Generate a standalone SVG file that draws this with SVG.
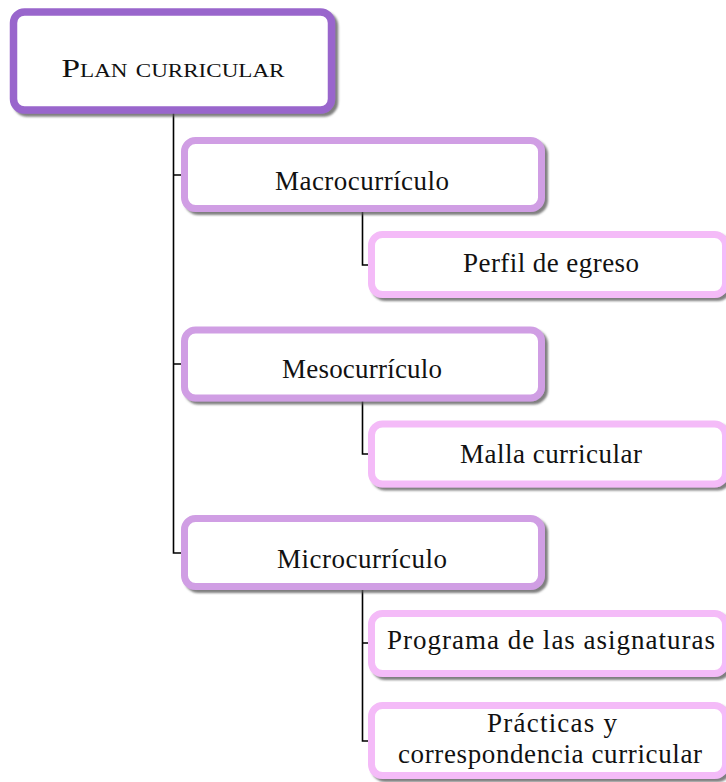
<svg xmlns="http://www.w3.org/2000/svg" width="726" height="782" viewBox="0 0 726 782">
<defs>
<filter id="sh" x="-5%" y="-10%" width="115%" height="130%">
<feDropShadow dx="3" dy="3" stdDeviation="0.8" flood-color="#555" flood-opacity="0.75"/>
</filter>
</defs>
<style>
.box{fill:#fff;filter:url(#sh)}
.root{stroke:#9966CC;stroke-width:7.5}
.mid{stroke:#D09EE4;stroke-width:7}
.leaf{stroke:#F4BBF8;stroke-width:7}
text{font-family:"Liberation Serif","Times New Roman",serif;font-size:27px;fill:#111;text-anchor:middle}
.sc{font-variant:small-caps;font-size:26px}
.conn{fill:none;stroke:#000;stroke-width:1.6}
</style>
<rect width="726" height="782" fill="#fff"/>
<g id="connectors">
<path class="conn" d="M173.5 110 V553 H181 M173.5 175 H181 M173.5 364 H181"/>
<path class="conn" d="M362.5 212 V265 H368"/>
<path class="conn" d="M362.5 401 V454 H368"/>
<path class="conn" d="M362.5 589 V741 H368 M362.5 643 H368"/>
</g>
<g id="plan">
<rect class="box root" x="13.5" y="12" width="318" height="98" rx="11"/>
<text class="sc" x="173" y="77" textLength="223" lengthAdjust="spacingAndGlyphs">Plan curricular</text>
</g>
<g id="macro">
<rect class="box mid" x="184.5" y="140.5" width="357" height="68" rx="11"/>
<text x="362" y="190" textLength="174" lengthAdjust="spacing">Macrocurrículo</text>
</g>
<g id="perfil">
<rect class="box leaf" x="371.5" y="234.5" width="354" height="60" rx="11"/>
<text x="551" y="272" textLength="176" lengthAdjust="spacing">Perfil de egreso</text>
</g>
<g id="meso">
<rect class="box mid" x="184.5" y="330" width="357" height="68" rx="11"/>
<text x="362" y="378" textLength="160" lengthAdjust="spacing">Mesocurrículo</text>
</g>
<g id="malla">
<rect class="box leaf" x="371.5" y="424" width="354" height="60" rx="11"/>
<text x="551" y="463" textLength="182" lengthAdjust="spacing">Malla curricular</text>
</g>
<g id="micro">
<rect class="box mid" x="184.5" y="518.5" width="357" height="68" rx="11"/>
<text x="362" y="568" textLength="170" lengthAdjust="spacing">Microcurrículo</text>
</g>
<g id="programa">
<rect class="box leaf" x="371.5" y="613.5" width="354" height="60" rx="11"/>
<text x="551" y="649" textLength="328" lengthAdjust="spacing">Programa de las asignaturas</text>
</g>
<g id="practicas">
<rect class="box leaf" x="371.5" y="705.5" width="354" height="70" rx="11"/>
<text x="552" y="732" textLength="130" lengthAdjust="spacing">Prácticas y</text>
<text x="550" y="763" textLength="304" lengthAdjust="spacing">correspondencia curricular</text>
</g>
</svg>
